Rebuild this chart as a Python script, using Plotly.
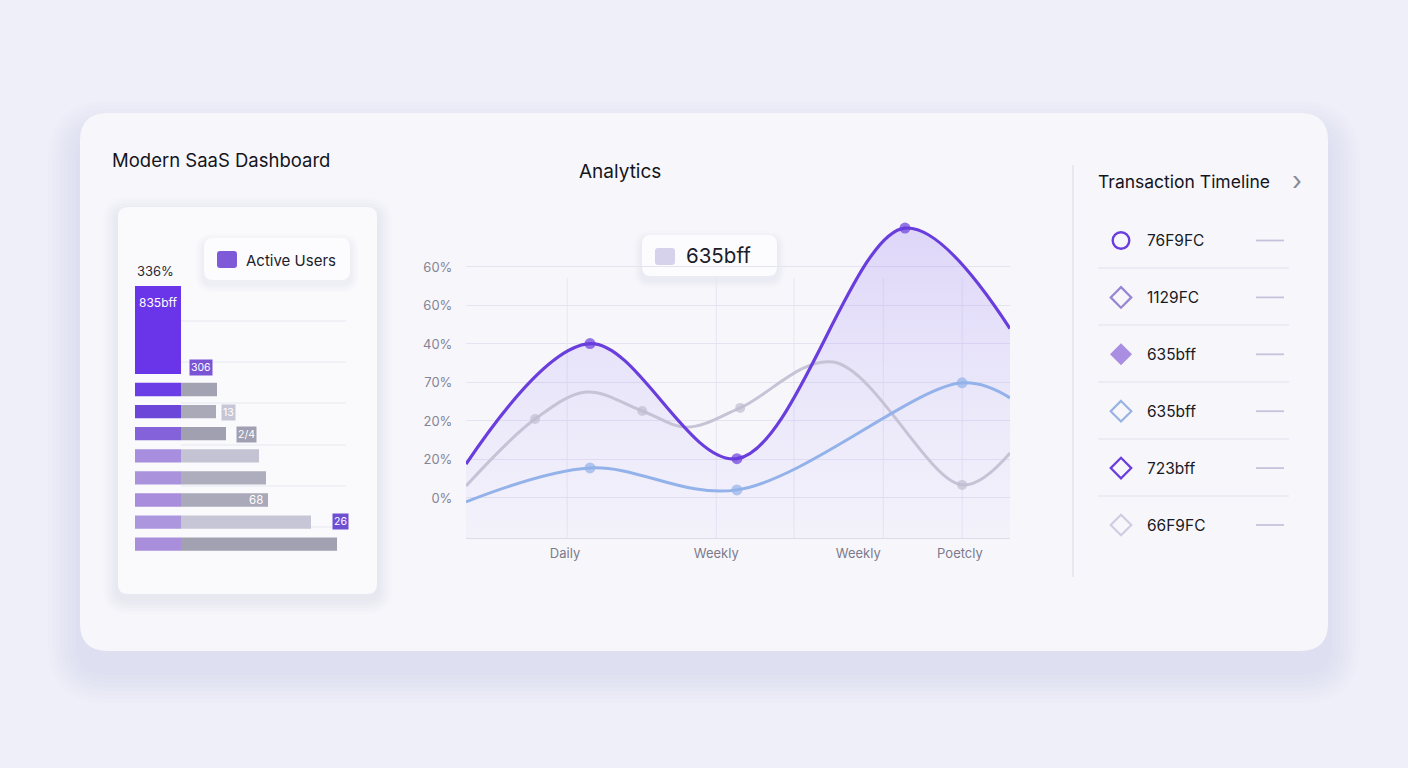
import plotly.graph_objects as go

W, H = 1408, 768

# ---------------- data ----------------
# left bar card
bar_rows = [0, 1, 2, 3, 4, 5, 6, 7]
bar_purple = [46, 46, 46, 46, 46, 46, 46, 46]
bar_gray = [36, 35, 45, 78, 85, 87, 130, 156]
purple_cols = ["#6a3de6", "#6c46d8", "#8462da", "#a88ede", "#aa92dd", "#a78ddb", "#ac96de", "#a88edb"]
gray_cols = ["#a2a2b2", "#a9a9b8", "#a0a0b0", "#c3c3d3", "#adadbd", "#a9a9b9", "#c6c6d6", "#a1a1b1"]
hero_value = 46
hero_span = (-4.68, -0.70)

# analytics line chart
x_ticks = [18.2, 46.0, 72.1, 90.8]
x_labels = ["Daily", "Weekly", "Weekly", "Poetcly"]
y_ticks = [0, 10, 20, 30, 40, 50, 60]
y_labels = ["0%", "20%", "20%", "70%", "40%", "60%", "60%"]
v_grid = [18.6, 46.0, 60.3, 76.7, 91.2]

purple_x = [0, 22.8, 49.8, 80.7, 100]
purple_y = [8.8, 40.1, 10.2, 70.1, 44.0]
purple_mk = [0, 11, 11, 11, 0]

gray_x = [0, 12.7, 22.2, 32.4, 40.6, 50.4, 67.5, 91.2, 100]
gray_y = [3.1, 20.5, 27.5, 22.6, 18.4, 23.4, 35.3, 3.4, 11.7]
gray_mk = [0, 10, 0, 10, 0, 10, 0, 10, 0]

blue_x = [0, 22.8, 49.8, 91.2, 100]
blue_y = [-1.0, 7.8, 2.1, 29.9, 26.0]
blue_mk = [0, 11, 11, 11, 0]

# timeline
tl_labels = ["76F9FC", "1129FC", "635bff", "635bff", "723bff", "66F9FC"]
tl_icons = ["circle", "diamond", "diamond-fill", "diamond", "diamond", "diamond"]
tl_colors = ["#6a3de0", "#9886d2", "#a98ee2", "#98b2e6", "#6a3ddc", "#cfcde2"]

FONT = "Inter"


def X(x):
    return x / W


def Y(y):
    return 1 - y / H


def rrect(x0, y0, x1, y1, r):
    def p(x, y):
        return f"{X(x):.5f},{Y(y):.5f}"
    return (f"M {p(x0 + r, y0)} L {p(x1 - r, y0)} Q {p(x1, y0)} {p(x1, y0 + r)} "
            f"L {p(x1, y1 - r)} Q {p(x1, y1)} {p(x1 - r, y1)} "
            f"L {p(x0 + r, y1)} Q {p(x0, y1)} {p(x0, y1 - r)} "
            f"L {p(x0, y0 + r)} Q {p(x0, y0)} {p(x0 + r, y0)} Z")


shapes = []
annotations = []


def add_rrect(x0, y0, x1, y1, r, fill, line=None, layer="below"):
    shapes.append(dict(type="path", path=rrect(x0, y0, x1, y1, r), xref="paper", yref="paper",
                       fillcolor=fill, line=dict(width=0 if line is None else 1,
                                                 color=line or "rgba(0,0,0,0)"), layer=layer))


def add_shadow(x0, y0, x1, y1, r, n, step, dy, alpha, color="110,110,165"):
    for i in range(n, 0, -1):
        e = i * step
        add_rrect(x0 - e, y0 - e + dy, x1 + e, y1 + e + dy, r + e, f"rgba({color},{alpha})")


def line(x0, y0, x1, y1, color, width=1, layer="below"):
    shapes.append(dict(type="line", xref="paper", yref="paper", x0=X(x0), y0=Y(y0), x1=X(x1), y1=Y(y1),
                       line=dict(color=color, width=width), layer=layer))


def text(t, x, y, size, color="#1b1b26", xanchor="left", bg=None, **kw):
    a = dict(text=t, x=X(x), y=Y(y), xref="paper", yref="paper", showarrow=False, xanchor=xanchor,
             yanchor="middle", font=dict(family=FONT, size=size, color=color))
    if bg:
        a.update(bgcolor=bg, borderpad=kw.get("pad", 2))
    annotations.append(a)


# ---------- backgrounds / cards ----------
add_shadow(80, 113, 1328, 651, 28, 8, 4, 20, 0.012)
add_rrect(80, 113, 1328, 651, 28, "#f7f7fb")

add_shadow(118, 207, 377, 594, 10, 5, 3, 5, 0.018)
add_rrect(118, 207, 377, 594, 10, "#fafafd")

# left card grid lines
for gy in [321, 362, 403, 445, 486, 527]:
    line(181, gy, 346, gy, "#e5e5f1", 1.2)

# Active users legend box
add_shadow(204, 238, 350, 280, 9, 4, 2, 4, 0.022)
add_rrect(204, 238, 350, 280, 9, "#fcfcfe")
add_rrect(217, 251, 237, 268, 3, "#7e5ad8")

# analytics legend box
add_shadow(642, 235, 777, 276, 9, 4, 2, 4, 0.022)
add_rrect(642, 235, 777, 276, 9, "#fcfcfe")
add_rrect(655, 248, 675, 265, 3, "#d6d2ec")

# vertical gridlines of analytics chart
for gx in v_grid:
    shapes.append(dict(type="line", xref="x", yref="paper", x0=gx, x1=gx, y0=Y(538), y1=Y(278),
                       line=dict(color="#e6e6f2", width=1), layer="below"))

# right panel
line(1073, 165, 1073, 577, "#dedee9", 1.2)
for sy in [268, 325, 382, 439, 496]:
    line(1098, sy, 1289, sy, "#e1e1ee", 1.2)

for i, (lab, ic, col) in enumerate(zip(tl_labels, tl_icons, tl_colors)):
    cy = 240.5 + i * 56.9
    cx = 1121
    if ic == "circle":
        r = 8.3
        shapes.append(dict(type="circle", xref="paper", yref="paper", x0=X(cx - r), x1=X(cx + r),
                           y0=Y(cy + r), y1=Y(cy - r), line=dict(color=col, width=2.4), layer="above"))
    else:
        d = 10.3 if ic != "diamond-fill" else 11
        path = (f"M {X(cx):.5f},{Y(cy - d):.5f} L {X(cx + d):.5f},{Y(cy):.5f} "
                f"L {X(cx):.5f},{Y(cy + d):.5f} L {X(cx - d):.5f},{Y(cy):.5f} Z")
        if ic == "diamond-fill":
            shapes.append(dict(type="path", path=path, xref="paper", yref="paper", fillcolor=col,
                               line=dict(width=0, color=col), layer="above"))
        else:
            shapes.append(dict(type="path", path=path, xref="paper", yref="paper",
                               line=dict(color=col, width=2.2), layer="above"))
    text(lab, 1145, cy, 15.5, "#1a1a24")
    line(1256, cy, 1284, cy, "#c6c2dc", 1.8, layer="above")

# ---------- texts ----------
text("Modern SaaS Dashboard", 110, 160, 18.5, "#14141c")
text("Analytics", 620, 171, 19, "#14141c", xanchor="center")
text("Transaction Timeline", 1096, 182, 17.5, "#14141c")
text("›", 1297, 180, 26, "#8a8a98", xanchor="center")
text("Active Users", 244, 260, 15, "#22222c")
text("635bff", 684, 256, 20.5, "#1c1c28")
text("336%", 135, 271, 13, "#2a2a33")
text("835bff", 158, 302, 12, "#ffffff", xanchor="center")
text("306", 201, 367.5, 10.5, "#ffffff", xanchor="center", bg="#7b54d6", pad=1)
text("13", 228.5, 412, 10.5, "#ffffff", xanchor="center", bg="#c6c6d6", pad=1)
text("2/4", 246, 434, 10.5, "#ffffff", xanchor="center", bg="#a0a0b2", pad=1)
text("68", 256, 500, 11.5, "#ffffff", xanchor="center")
text("26", 340.5, 521, 10.5, "#ffffff", xanchor="center", bg="#6e4fd2", pad=1)

# ---------- traces ----------
fig = go.Figure()

# left bars
fig.add_trace(go.Bar(orientation="h", x=bar_purple, y=bar_rows, width=0.6,
                     marker=dict(color=purple_cols, line=dict(width=0)), xaxis="x2", yaxis="y2"))
fig.add_trace(go.Bar(orientation="h", x=bar_gray, y=bar_rows, base=bar_purple, width=0.6,
                     marker=dict(color=gray_cols, line=dict(width=0)), xaxis="x2", yaxis="y2"))
fig.add_trace(go.Bar(orientation="h", x=[hero_value], y=[(hero_span[0] + hero_span[1]) / 2],
                     width=[hero_span[1] - hero_span[0]],
                     marker=dict(color="#6a35e8", line=dict(width=0)), xaxis="x2", yaxis="y2"))

# analytics
y_floor = -10.4
fig.add_trace(go.Scatter(x=[0, 100], y=[y_floor, y_floor], mode="lines",
                         line=dict(width=0, color="rgba(0,0,0,0)"), hoverinfo="skip"))
fig.add_trace(go.Scatter(x=purple_x, y=purple_y, mode="lines", line=dict(shape="spline", width=0,
                         smoothing=1.0, color="rgba(0,0,0,0)"), fill="tonexty",
                         fillgradient=dict(type="vertical",
                                           colorscale=[[0, "rgba(170,150,245,0.05)"],
                                                       [0.5, "rgba(160,135,245,0.15)"],
                                                       [1, "rgba(150,120,240,0.26)"]])))
fig.add_trace(go.Scatter(x=gray_x, y=gray_y, mode="lines+markers",
                         line=dict(shape="spline", smoothing=1.0, width=3, color="#c5c3d5"),
                         marker=dict(size=gray_mk, color="#c0bed0", line=dict(width=0))))
fig.add_trace(go.Scatter(x=blue_x, y=blue_y, mode="lines+markers",
                         line=dict(shape="spline", smoothing=1.0, width=3, color="#93b2ea"),
                         marker=dict(size=blue_mk, color="#93b2ea", line=dict(width=0))))
fig.add_trace(go.Scatter(x=purple_x, y=purple_y, mode="lines+markers",
                         line=dict(shape="spline", smoothing=1.0, width=3.2, color="#6a3ddd"),
                         marker=dict(size=purple_mk, color="#6a3ddd", line=dict(width=0))))

fig.update_layout(
    width=W, height=H, autosize=False,
    margin=dict(l=0, r=0, t=0, b=0, pad=0),
    paper_bgcolor="#eeeff8", plot_bgcolor="rgba(0,0,0,0)",
    showlegend=False, barmode="overlay",
    font=dict(family=FONT),
    xaxis=dict(domain=[X(466), X(1010)], range=[0, 100], showgrid=False, zeroline=False,
               tickvals=x_ticks, ticktext=x_labels, ticks="outside", ticklen=3,
               tickcolor="rgba(0,0,0,0)", showline=True, linecolor="#dcdce9", linewidth=1.2,
               tickfont=dict(family=FONT, size=13, color="#7c7a8c"), fixedrange=True),
    yaxis=dict(domain=[Y(538), Y(209.25)], range=[-10.4, 75], showgrid=True, gridcolor="#e4e4f1",
               gridwidth=1.2, zeroline=False, tickvals=y_ticks, ticktext=y_labels, ticks="outside",
               ticklen=10, tickcolor="rgba(0,0,0,0)",
               tickfont=dict(family=FONT, size=13, color="#858394"), fixedrange=True),
    xaxis2=dict(domain=[X(135), X(346)], range=[0, 211], visible=False, fixedrange=True),
    yaxis2=dict(domain=[Y(566.3), Y(279)], range=[8, -5], visible=False, fixedrange=True),
    shapes=shapes, annotations=annotations,
)

fig.write_html("out.html")
